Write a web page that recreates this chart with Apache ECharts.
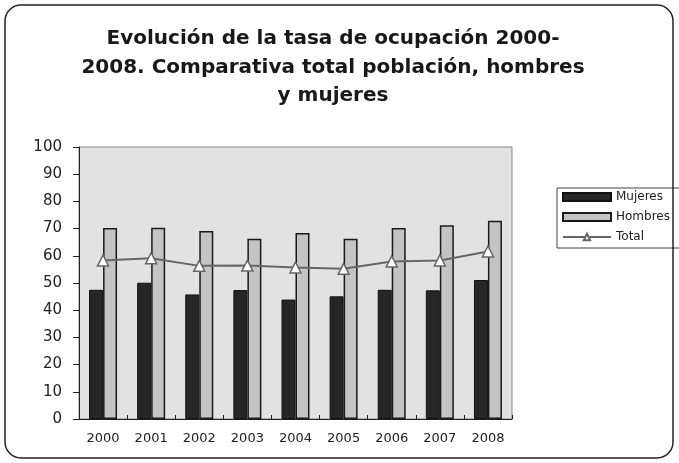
<!DOCTYPE html>
<html><head><meta charset="utf-8">
<script src="https://cdn.jsdelivr.net/npm/echarts@6/dist/echarts.min.js"></script>
<style>html,body{margin:0;padding:0;background:#fff}#c{width:679px;height:463px}</style>
</head><body><div id="c"></div>
<script>
const categories = ['2000','2001','2002','2003','2004','2005','2006','2007','2008'];
const mujeres = [47.5, 50.1, 45.8, 47.4, 43.9, 45.1, 47.5, 47.3, 51.1];
const hombres = [70.2, 70.3, 69.1, 66.3, 68.4, 66.3, 70.2, 71.2, 72.9];
const total = [58.3, 59.1, 56.3, 56.4, 55.7, 55.2, 57.9, 58.3, 61.6];
const yTicks = [0,10,20,30,40,50,60,70,80,90,100];

const FONT = 'DejaVu Sans, Liberation Sans, sans-serif';
const chart = echarts.init(document.getElementById('c'));
chart.setOption({
  animation: false,
  backgroundColor: '#fff',
  textStyle: {fontFamily: FONT},
  title: {
    text: 'Evolución de la tasa de ocupación 2000-\n2008. Comparativa total población, hombres\ny mujeres',
    left: 328, top: 20, textAlign: 'center',
    textStyle: {fontSize: 20, fontWeight: 'bold', color: '#181818', lineHeight: 28.5, fontFamily: FONT}
  },
  graphic: [
    {type: 'rect', shape: {x: 5, y: 5, width: 668, height: 453, r: 16}, style: {fill: 'none', stroke: '#222', lineWidth: 1.5}, z: 100}
  ],
  legend: {
    orient: 'vertical', left: 557, top: 188,
    itemWidth: 48, itemHeight: 8, itemGap: 8,
    padding: [3, 30, 5, 5],
    borderColor: '#444', borderWidth: 1,
    textStyle: {fontSize: 12, color: '#222', fontFamily: FONT},
    data: [{name: 'Mujeres', icon: 'rect'}, {name: 'Hombres', icon: 'rect'}, {name: 'Total'}]
  },
  grid: {left: 79, right: 167, top: 147, bottom: 44, show: true, backgroundColor: '#e2e2e2', borderColor: '#888', borderWidth: 1},
  xAxis: {
    type: 'category', data: categories,
    axisLine: {lineStyle: {color: '#222'}},
    axisTick: {show: true, length: 4, inside: true, lineStyle: {color: '#222'}},
    axisLabel: {fontSize: 13, color: '#222', margin: 13, fontFamily: FONT}
  },
  yAxis: {
    type: 'value', min: 0, max: 100, interval: 10,
    axisLine: {show: true, lineStyle: {color: '#222'}},
    axisTick: {show: true, length: 6, lineStyle: {color: '#222'}},
    axisLabel: {fontSize: 15, color: '#222', margin: 17, fontFamily: FONT, formatter: v => yTicks.includes(v) ? String(v) : ''},
    splitLine: {show: false}
  },
  series: [
    {name: 'Mujeres', type: 'bar', data: mujeres, barWidth: 14, barGap: '0%',
     itemStyle: {color: '#262626', borderColor: '#111', borderWidth: 1}},
    {name: 'Hombres', type: 'bar', data: hombres, barWidth: 14,
     itemStyle: {color: '#c4c4c4', borderColor: '#1a1a1a', borderWidth: 1.5}},
    {name: 'Total', type: 'line', data: total, symbol: 'triangle', symbolSize: 11,
     lineStyle: {color: '#666', width: 2}, itemStyle: {color: '#fff', borderColor: '#666', borderWidth: 1.5}, z: 5}
  ]
});
</script></body></html>
